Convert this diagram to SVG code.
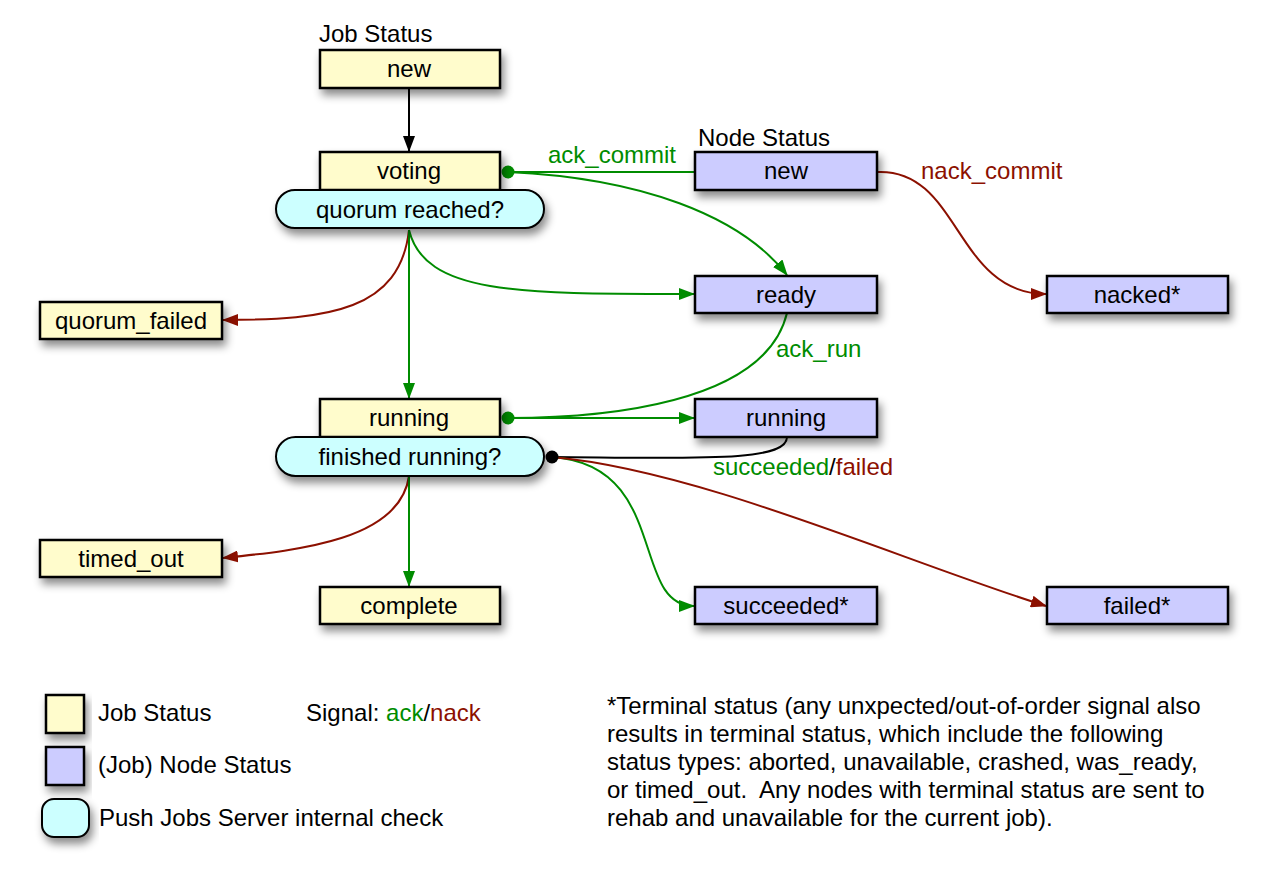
<svg xmlns="http://www.w3.org/2000/svg" width="1268" height="886" viewBox="0 0 1268 886">
<defs>
<filter id="sh" x="-20%" y="-30%" width="140%" height="180%">
<feDropShadow dx="3" dy="6" stdDeviation="4" flood-color="#000" flood-opacity="0.45"/>
</filter>
<marker id="aK" markerWidth="16" markerHeight="12" refX="15" refY="6" orient="auto" markerUnits="userSpaceOnUse"><path d="M0,0 L16,6 L0,12 z" fill="#000"/></marker>
<marker id="aG" markerWidth="16" markerHeight="12" refX="15" refY="6" orient="auto" markerUnits="userSpaceOnUse"><path d="M0,0 L16,6 L0,12 z" fill="#008c00"/></marker>
<marker id="aR" markerWidth="16" markerHeight="12" refX="15" refY="6" orient="auto" markerUnits="userSpaceOnUse"><path d="M0,0 L16,6 L0,12 z" fill="#8c1000"/></marker>
</defs>
<style>
text{font-family:"Liberation Sans",Arial,sans-serif;font-size:24px;fill:#000;white-space:pre}
.c{text-anchor:middle}
.job{fill:#fffccc;stroke:#000;stroke-width:2.5}
.node{fill:#ccccff;stroke:#000;stroke-width:2.5}
.chk{fill:#ccffff;stroke:#000;stroke-width:2}
.g{stroke:#008c00;fill:none;stroke-width:2}
.r{stroke:#8c1000;fill:none;stroke-width:2}
.k{stroke:#000;fill:none;stroke-width:2}
.tg{fill:#008c00}
.tr{fill:#8c1000}
</style>
<rect width="1268" height="886" fill="#fff"/>

<g id="connectors">
<path class="k" d="M409,88 L409,151" marker-end="url(#aK)"/>
<path class="g" d="M508,172 L695,172"/>
<path class="g" d="M508,172 C640,178 740,215 787,275" marker-end="url(#aG)"/>
<path class="r" d="M877,172 C960,168 955,294 1046,294" marker-end="url(#aR)"/>
<path class="r" d="M409,230 C400,310 330,320 223,320" marker-end="url(#aR)"/>
<path class="g" d="M409,230 C425,295 520,294 694,294" marker-end="url(#aG)"/>
<path class="g" d="M409,230 L409,398" marker-end="url(#aG)"/>
<path class="g" d="M787,313 C765,405 600,418 508,418"/>
<path class="g" d="M508,418 L694,418" marker-end="url(#aG)"/>
<path class="k" d="M787,437 C787,462 700,458 552,457"/>
<path class="g" d="M552,457 C670,465 630,606 694,606" marker-end="url(#aG)"/>
<path class="r" d="M552,457 C700,470 900,560 1046,606" marker-end="url(#aR)"/>
<path class="r" d="M409,476 C400,540 300,550 223,558" marker-end="url(#aR)"/>
<path class="g" d="M409,476 L409,586" marker-end="url(#aG)"/>
<circle cx="508" cy="172" r="6.5" fill="#008c00"/>
<circle cx="508" cy="418" r="6.5" fill="#008c00"/>
<circle cx="552" cy="457" r="6.5" fill="#000"/>
<text x="548" y="163" class="tg">ack_commit</text>
<text x="921" y="179" class="tr">nack_commit</text>
<text x="776" y="357" class="tg">ack_run</text>
<text x="713" y="475"><tspan class="tg">succeeded</tspan>/<tspan class="tr">failed</tspan></text>
</g>

<text x="319" y="42">Job Status</text>
<text x="698" y="146">Node Status</text>

<g id="job-new"><rect class="job" x="320" y="50" width="180" height="38" filter="url(#sh)"/><text x="409" y="77" class="c">new</text></g>
<g id="job-voting"><rect class="job" x="320" y="152" width="180" height="38" filter="url(#sh)"/><text x="409" y="179" class="c">voting</text></g>
<g id="quorum-reached"><rect class="chk" x="276" y="190" width="268" height="38" rx="19" ry="19" filter="url(#sh)"/><text x="410" y="218" class="c">quorum reached?</text></g>
<g id="node-new"><rect class="node" x="695" y="152" width="182" height="38" filter="url(#sh)"/><text x="786" y="179" class="c">new</text></g>
<g id="node-ready"><rect class="node" x="695" y="276" width="182" height="37" filter="url(#sh)"/><text x="786" y="303" class="c">ready</text></g>
<g id="node-nacked"><rect class="node" x="1047" y="276" width="181" height="37" filter="url(#sh)"/><text x="1137" y="303" class="c">nacked*</text></g>
<g id="job-quorum-failed"><rect class="job" x="40" y="302" width="182" height="37" filter="url(#sh)"/><text x="131" y="329" class="c">quorum_failed</text></g>
<g id="job-running"><rect class="job" x="320" y="399" width="180" height="38" filter="url(#sh)"/><text x="409" y="426" class="c">running</text></g>
<g id="finished-running"><rect class="chk" x="276" y="437" width="268" height="39" rx="19.5" ry="19.5" filter="url(#sh)"/><text x="410" y="465" class="c">finished running?</text></g>
<g id="node-running"><rect class="node" x="695" y="399" width="182" height="38" filter="url(#sh)"/><text x="786" y="426" class="c">running</text></g>
<g id="job-timed-out"><rect class="job" x="40" y="540" width="182" height="37" filter="url(#sh)"/><text x="131" y="567" class="c">timed_out</text></g>
<g id="job-complete"><rect class="job" x="320" y="587" width="180" height="37" filter="url(#sh)"/><text x="409" y="614" class="c">complete</text></g>
<g id="node-succeeded"><rect class="node" x="695" y="587" width="182" height="37" filter="url(#sh)"/><text x="786" y="614" class="c">succeeded*</text></g>
<g id="node-failed"><rect class="node" x="1047" y="587" width="181" height="37" filter="url(#sh)"/><text x="1137" y="614" class="c">failed*</text></g>

<g id="legend">
<rect class="job" x="46" y="695" width="38" height="38" filter="url(#sh)"/>
<rect class="node" x="46" y="747" width="38" height="38" filter="url(#sh)"/>
<rect class="chk" x="42" y="799" width="47" height="38" rx="12" ry="12" filter="url(#sh)"/>
<text x="98" y="721">Job Status</text>
<text x="98" y="773">(Job) Node Status</text>
<text x="99" y="826">Push Jobs Server internal check</text>
<text x="306" y="721">Signal: <tspan class="tg">ack</tspan>/<tspan class="tr">nack</tspan></text>
</g>

<g id="note">
<text x="607" y="714">*Terminal status (any unxpected/out-of-order signal also</text>
<text x="607" y="742">results in terminal status, which include the following</text>
<text x="607" y="770">status types: aborted, unavailable, crashed, was_ready,</text>
<text x="607" y="798">or timed_out.  Any nodes with terminal status are sent to</text>
<text x="607" y="826">rehab and unavailable for the current job).</text>
</g>
</svg>
